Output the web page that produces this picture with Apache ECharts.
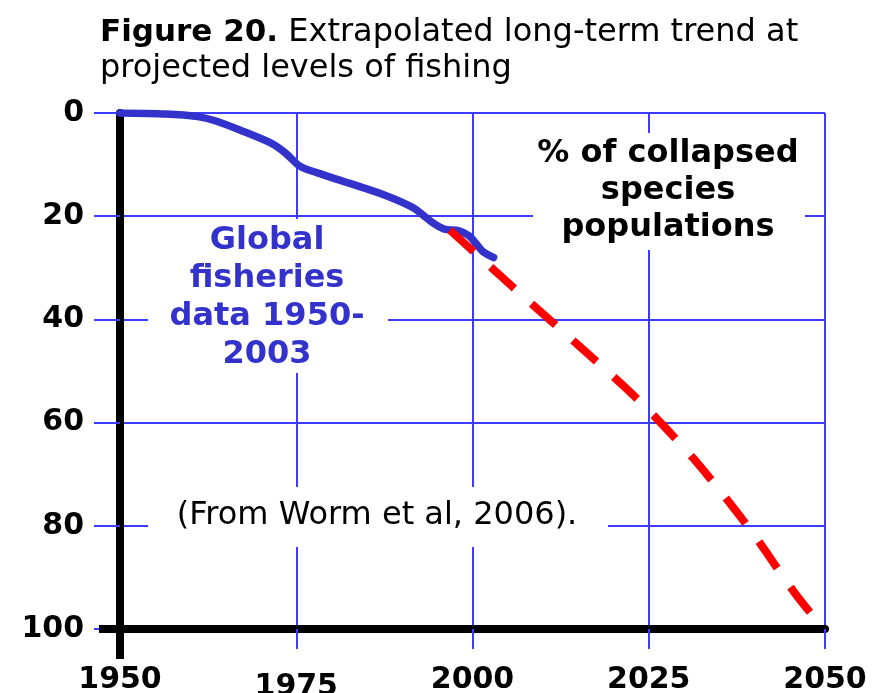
<!DOCTYPE html>
<html>
<head>
<meta charset="utf-8">
<title>Figure 20</title>
<script src="https://cdn.jsdelivr.net/npm/echarts@6/dist/echarts.min.js"></script>
<style>
  html, body { margin: 0; padding: 0; background: #fff; }
  #chart { width: 872px; height: 693px; }
</style>
</head>
<body>
<div id="chart"></div>
<script>
// Global fisheries data 1950-2003 (% of collapsed species populations)
var fishYears    = [1950, 1956.5, 1961, 1963.5, 1967, 1971.5, 1973.5, 1975.5, 1978, 1982.5, 1987.5, 1991.5, 1993, 1994.5, 1996, 1998, 1999.5, 2000.5, 2001.5, 2003];
var fishCollapse = [0,    0.2,    0.7,  1.5,    3.3,  5.9,    7.8,    10.3,   11.6, 13.6,   15.9,   18.3,   19.8, 21.4,   22.5, 22.8, 23.8,   25.3,   26.9,   28.0];

// Extrapolated trend to 2050
var projYears    = [1996.8, 2005.7, 2014.5, 2023.5, 2031.3, 2039.1, 2045.7, 2049.7];
var projCollapse = [22.7,   33.7,   44.4,   55.6,   66.9,   80.2,   93.0,   99.8];

var xTicks = [1950, 1975, 2000, 2025, 2050];
var yTicks = [0, 20, 40, 60, 80, 100];

var BLUE_GRID = '#3c3cff';
var BLUE_DATA = '#3333cc';
var FONT = 'DejaVu Sans';

function pairs(xs, ys) {
    return xs.map(function(x, i) { return [x, ys[i]]; });
}

var chart = echarts.init(document.getElementById('chart'));

chart.setOption({
    animation: false,
    textStyle: { fontFamily: FONT },
    title: {
        left: 100,
        top: 15,
        padding: 0,
        text: '{b|Figure 20.} Extrapolated long-term trend at\nprojected levels of fishing',
        textStyle: {
            fontFamily: FONT,
            fontSize: 32,
            fontWeight: 'normal',
            color: '#000',
            lineHeight: 36,
            rich: {
                b: { fontFamily: FONT, fontSize: 31, fontWeight: 'bold', color: '#000', lineHeight: 36 }
            }
        }
    },
    grid: { left: 120, right: 47, top: 113, bottom: 64, containLabel: false, outerBoundsMode: 'none' },
    xAxis: {
        type: 'value',
        position: 'bottom',
        min: xTicks[0],
        max: xTicks[xTicks.length - 1],
        interval: 25,
        axisLine: { show: true, onZero: false, lineStyle: { color: '#000', width: 8 } },
        axisTick: { show: true, length: 20, lineStyle: { color: BLUE_GRID, width: 2 } },
        splitLine: { show: true, lineStyle: { color: BLUE_GRID, width: 2 } },
        axisLabel: {
            margin: 36,
            fontFamily: FONT,
            fontSize: 30,
            fontWeight: 'bold',
            color: '#000',
            formatter: function(v) { return v === 1975 ? '{low|1975}' : String(v); },
            rich: {
                low: { fontFamily: FONT, fontSize: 30, fontWeight: 'bold', color: '#000', lineHeight: 44 }
            }
        }
    },
    yAxis: {
        type: 'value',
        inverse: true,
        min: yTicks[0],
        max: yTicks[yTicks.length - 1],
        interval: 20,
        axisLine: { show: true, onZero: false, lineStyle: { color: '#000', width: 8 } },
        axisTick: { show: true, length: 26, lineStyle: { color: BLUE_GRID, width: 2 } },
        splitLine: { show: true, lineStyle: { color: BLUE_GRID, width: 2 } },
        axisLabel: {
            margin: 36,
            fontFamily: FONT,
            fontSize: 30,
            fontWeight: 'bold',
            color: '#000',
            padding: [0, 0, 10, 0]
        }
    },
    series: [
        {
            name: 'Global fisheries data 1950-2003',
            type: 'line',
            smooth: 0.3,
            showSymbol: false,
            data: pairs(fishYears, fishCollapse),
            lineStyle: { color: BLUE_DATA, width: 7.5, cap: 'round' },
            z: 3
        },
        {
            name: 'Extrapolated trend',
            type: 'line',
            smooth: 0.3,
            showSymbol: false,
            data: pairs(projYears, projCollapse),
            lineStyle: { color: '#ff0000', width: 8, type: [32, 23], cap: 'butt' },
            z: 4
        }
    ]
});

// annotations + axis extensions below the corner
var corner = chart.convertToPixel({ gridIndex: 0 }, [xTicks[0], yTicks[yTicks.length - 1]]);

chart.setOption({
    graphic: [
        // white boxes behind the labels
        { type: 'rect', z: 1, shape: { x: 533, y: 133, width: 272, height: 117 }, style: { fill: '#fff' } },
        { type: 'rect', z: 1, shape: { x: 148, y: 219, width: 240, height: 154 }, style: { fill: '#fff' } },
        { type: 'rect', z: 1, shape: { x: 148, y: 487, width: 460, height: 60 }, style: { fill: '#fff' } },
        {
            type: 'text', z: 2,
            style: {
                x: 668, y: 135,
                text: '% of collapsed\nspecies\npopulations',
                font: 'bold 32px "DejaVu Sans"',
                fill: '#000',
                align: 'center', textAlign: 'center',
                verticalAlign: 'top', textVerticalAlign: 'top',
                lineHeight: 37
            }
        },
        {
            type: 'text', z: 2,
            style: {
                x: 267, y: 222,
                text: 'Global\nfisheries\ndata 1950-\n2003',
                font: 'bold 32px "DejaVu Sans"',
                fill: BLUE_DATA,
                align: 'center', textAlign: 'center',
                verticalAlign: 'top', textVerticalAlign: 'top',
                lineHeight: 38
            }
        },
        {
            type: 'text', z: 2,
            style: {
                x: 377, y: 516,
                text: '(From Worm et al, 2006).',
                font: '32px "DejaVu Sans"',
                fill: '#000',
                align: 'center', textAlign: 'center',
                verticalAlign: 'middle', textVerticalAlign: 'middle'
            }
        },
        // black axis extensions past the corner
        { type: 'rect', z: 10, shape: { x: corner[0] - 21, y: corner[1] - 4, width: 25, height: 8 }, style: { fill: '#000' } },
        { type: 'rect', z: 10, shape: { x: corner[0] - 4, y: corner[1], width: 8, height: 30 }, style: { fill: '#000' } }
    ]
});
</script>
</body>
</html>
